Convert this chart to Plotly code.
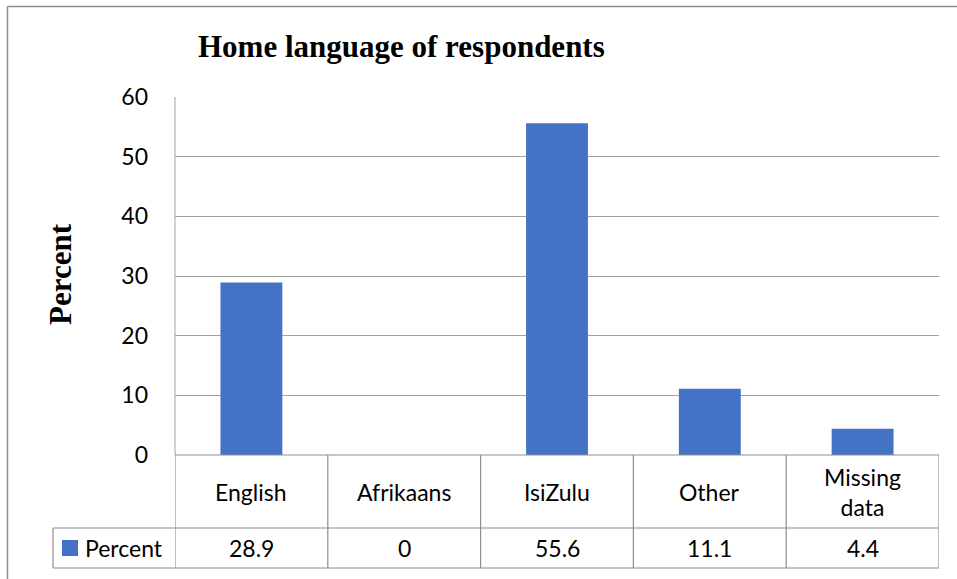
import plotly.graph_objects as go

# Home language of respondents (percent)
categories = ["English", "Afrikaans", "IsiZulu", "Other", "Missing<br>data"]
percent = [28.9, 0, 55.6, 11.1, 4.4]
series_name = "Percent"
y_ticks = [0, 10, 20, 30, 40, 50, 60]

W, H = 957, 579
BAR = "#4472C4"
GRID = "#a3a3a3"
TABLE = "#8f8f8f"
LABEL_FONT = "Lato"
SERIF = "Liberation Serif"

# plot-area geometry in pixels
PX_L, PX_R = 175, 939
PY_TOP, PY_ZERO = 97, 455
ROW_MID, ROW_BOT = 528, 568
LEG_L = 53


def px(x):
    return x / W


def py(y):
    return 1 - y / H


n = len(categories)
fig = go.Figure()
fig.add_trace(go.Bar(
    x=list(range(n)), y=percent, name=series_name,
    marker=dict(color=BAR, line=dict(width=0)),
    width=0.405, showlegend=False, hoverinfo="x+y",
))

shapes = []
# outer chart border
shapes.append(dict(type="line", xref="paper", yref="paper",
                   x0=px(7.5), x1=px(7.5), y0=py(6.5), y1=0,
                   line=dict(color=TABLE, width=1.5)))
shapes.append(dict(type="line", xref="paper", yref="paper",
                   x0=px(7.5), x1=1, y0=py(6.5), y1=py(6.5),
                   line=dict(color=TABLE, width=1.5)))
# left edge of plot area
shapes.append(dict(type="line", xref="paper", yref="paper",
                   x0=px(PX_L), x1=px(PX_L), y0=py(PY_TOP), y1=py(PY_ZERO),
                   line=dict(color=GRID, width=1)))
# data table: horizontal rules
shapes.append(dict(type="line", xref="paper", yref="paper",
                   x0=px(PX_L), x1=px(PX_R), y0=py(PY_ZERO), y1=py(PY_ZERO),
                   line=dict(color=TABLE, width=1.2)))
for yy in (ROW_MID, ROW_BOT):
    shapes.append(dict(type="line", xref="paper", yref="paper",
                       x0=px(LEG_L), x1=px(PX_R), y0=py(yy), y1=py(yy),
                       line=dict(color=TABLE, width=1.2)))
# data table: vertical rules at category boundaries
for i in range(n + 1):
    shapes.append(dict(type="line", xref="x", yref="paper",
                       x0=i - 0.5, x1=i - 0.5, y0=py(PY_ZERO), y1=py(ROW_BOT),
                       line=dict(color=TABLE, width=1.2)))
shapes.append(dict(type="line", xref="paper", yref="paper",
                   x0=px(LEG_L), x1=px(LEG_L), y0=py(ROW_MID), y1=py(ROW_BOT),
                   line=dict(color=TABLE, width=1.2)))
# legend key in the table
shapes.append(dict(type="rect", xref="paper", yref="paper",
                   x0=px(62), x1=px(78), y0=py(556), y1=py(540),
                   fillcolor=BAR, line=dict(width=0)))

annotations = []
annotations.append(dict(text="<b>Home language of respondents</b>",
                        xref="paper", yref="paper", x=px(401), y=py(47),
                        xanchor="center", yanchor="middle", showarrow=False,
                        font=dict(family=SERIF, size=31, color="black")))
annotations.append(dict(text="<b>Percent</b>", textangle=-90,
                        xref="paper", yref="paper", x=px(60), y=py(274),
                        xanchor="center", yanchor="middle", showarrow=False,
                        font=dict(family=SERIF, size=31, color="black")))
cat_mid = (PY_ZERO + ROW_MID) / 2
val_mid = (ROW_MID + ROW_BOT) / 2
for i, (c, v) in enumerate(zip(categories, percent)):
    annotations.append(dict(text=c, xref="x", yref="paper", x=i, y=py(cat_mid + 1),
                            xanchor="center", yanchor="middle", showarrow=False,
                            font=dict(family=LABEL_FONT, size=23, color="black")))
    annotations.append(dict(text=f"{v:g}", xref="x", yref="paper", x=i, y=py(val_mid),
                            xanchor="center", yanchor="middle", showarrow=False,
                            font=dict(family=LABEL_FONT, size=23, color="black")))
annotations.append(dict(text=series_name, xref="paper", yref="paper",
                        x=px(83), y=py(val_mid), xanchor="left", yanchor="middle",
                        showarrow=False,
                        font=dict(family=LABEL_FONT, size=23, color="black")))

fig.update_layout(
    width=W, height=H,
    margin=dict(l=0, r=0, t=0, b=0, autoexpand=False),
    paper_bgcolor="white", plot_bgcolor="white",
    xaxis=dict(domain=[px(PX_L), px(PX_R)], range=[-0.5, n - 0.5],
               showticklabels=False, showgrid=False, zeroline=False,
               showline=False, fixedrange=True, automargin=False),
    yaxis=dict(domain=[py(PY_ZERO), py(PY_TOP)], range=[0, 60],
               tickvals=y_ticks, ticktext=[str(t) for t in y_ticks],
               showgrid=True, gridcolor=GRID, gridwidth=1,
               zeroline=False, showline=False, ticks="",
               ticklabelstandoff=26, automargin=False,
               tickfont=dict(family=LABEL_FONT, size=23, color="black"),
               fixedrange=True),
    shapes=shapes,
    annotations=annotations,
    font=dict(family=LABEL_FONT),
)

fig.write_html("out.html")
